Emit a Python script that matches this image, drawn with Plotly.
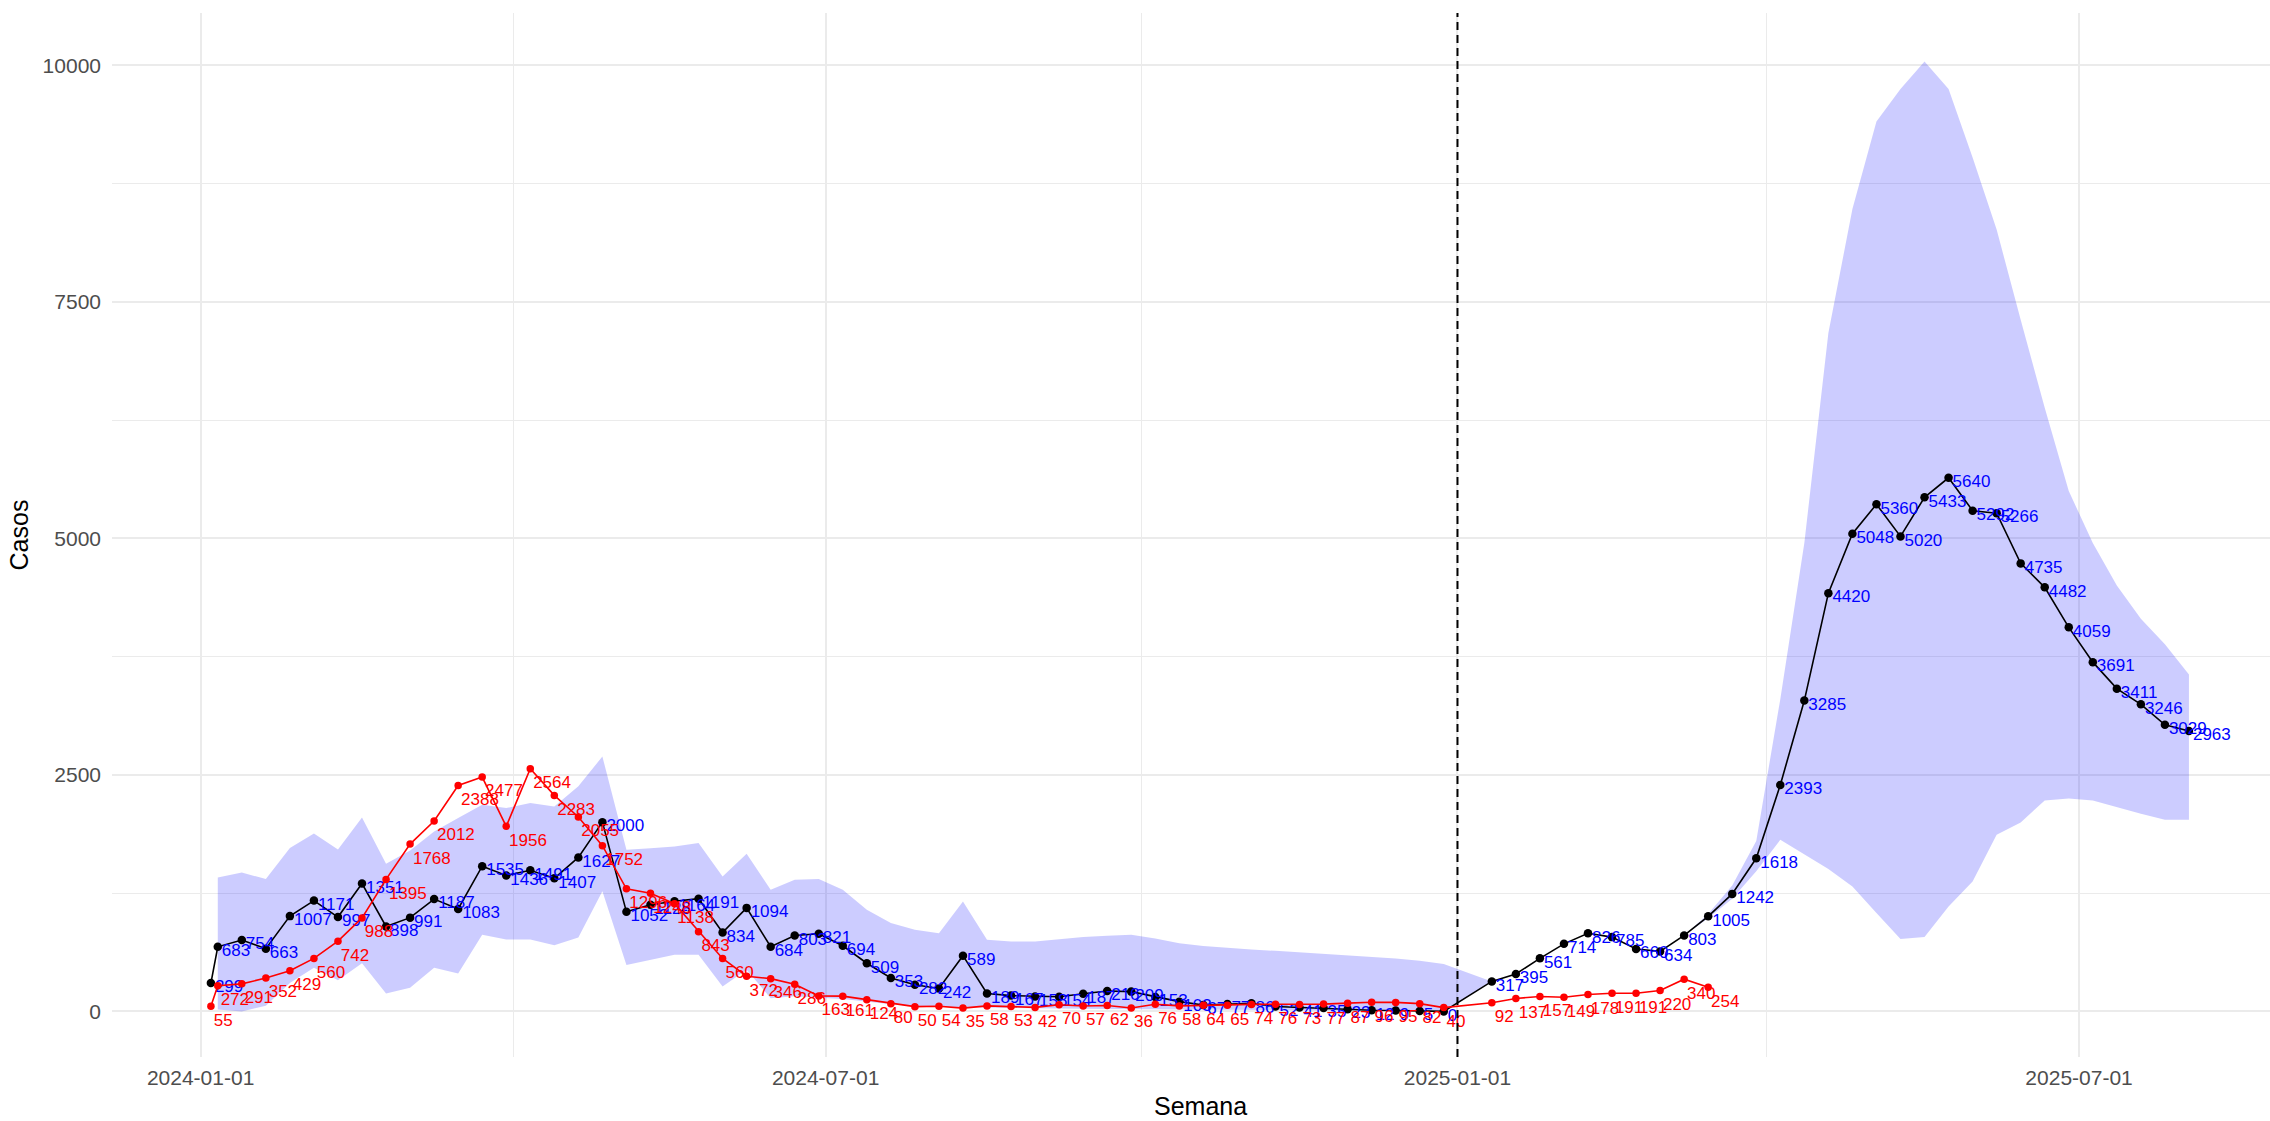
import pandas as pd
import plotly.graph_objects as go

# ---------------- data ----------------
semanas_2024 = [
    "2024-01-04", "2024-01-06", "2024-01-13", "2024-01-20", "2024-01-27",
    "2024-02-03", "2024-02-10", "2024-02-17", "2024-02-24", "2024-03-02",
    "2024-03-09", "2024-03-16", "2024-03-23", "2024-03-30", "2024-04-06",
    "2024-04-13", "2024-04-20", "2024-04-27", "2024-05-04", "2024-05-11",
    "2024-05-18", "2024-05-25", "2024-06-01", "2024-06-08", "2024-06-15",
    "2024-06-22", "2024-06-29", "2024-07-06", "2024-07-13", "2024-07-20",
    "2024-07-27", "2024-08-03", "2024-08-10", "2024-08-17", "2024-08-24",
    "2024-08-31", "2024-09-07", "2024-09-14", "2024-09-21", "2024-09-28",
    "2024-10-05", "2024-10-12", "2024-10-19", "2024-10-26", "2024-11-02",
    "2024-11-09", "2024-11-16", "2024-11-23", "2024-11-30", "2024-12-07",
    "2024-12-14", "2024-12-21", "2024-12-28",
]
semanas_2025 = [
    "2025-01-11", "2025-01-18", "2025-01-25", "2025-02-01", "2025-02-08",
    "2025-02-15", "2025-02-22", "2025-03-01", "2025-03-08", "2025-03-15",
    "2025-03-22", "2025-03-29", "2025-04-05", "2025-04-12", "2025-04-19",
    "2025-04-26", "2025-05-03", "2025-05-10", "2025-05-17", "2025-05-24",
    "2025-05-31", "2025-06-07", "2025-06-14", "2025-06-21", "2025-06-28",
    "2025-07-05", "2025-07-12", "2025-07-19", "2025-07-26", "2025-08-02",
]

# modelled cases (black line, blue labels)
estimados_2024 = [
    299, 683, 754, 663, 1007, 1171, 997, 1351, 898, 991,
    1187, 1083, 1535, 1436, 1491, 1407, 1627, 2000, 1052, 1128,
    1164, 1191, 834, 1094, 684, 803, 821, 694, 509, 353,
    282, 242, 589, 189, 167, 158, 154, 187, 216, 209,
    153, 103, 67, 77, 86, 52, 41, 35, 23, 12,
    9, 5, 0,
]
estimados_2025 = [
    317, 395, 561, 714, 826, 785, 660, 634, 803, 1005,
    1242, 1618, 2393, 3285, 4420, 5048, 5360, 5020, 5433, 5640,
    5292, 5266, 4735, 4482, 4059, 3691, 3411, 3246, 3029, 2963,
]

# observed cases (red line, red labels)
observados_2024 = [
    55, 272, 291, 352, 429, 560, 742, 988, 1395, 1768,
    2012, 2388, 2477, 1956, 2564, 2283, 2055, 1752, 1296, 1248,
    1138, 843, 560, 372, 346, 286, 163, 161, 124, 80,
    50, 54, 35, 58, 53, 42, 70, 57, 62, 36,
    76, 58, 64, 65, 74, 76, 73, 77, 87, 96,
    95, 82, 40,
]
observados_2025 = [92, 137, 157, 149, 178, 191, 191, 220, 340, 254]

# interval band (no band on the first week)
ic_inferior_2024 = [
    None, 20, 0, 60, 300, 460, 330, 510, 190, 250,
    460, 400, 810, 760, 760, 700, 780, 1270, 490, 545,
    598, 598, 264, 440, 140, 160, 143, 130, 100, 75,
    55, 50, 45, 40, 36, 31, 29, 27, 24, 22,
    20, 18, 17, 15, 13, 12, 10, 9, 8, 6,
    5, 4, 3,
]
ic_superior_2024 = [
    None, 1416, 1468, 1398, 1726, 1880, 1711, 2050, 1560, 1700,
    1900, 2043, 2184, 2149, 2202, 2166, 2380, 2694, 1708, 1725,
    1744, 1779, 1426, 1666, 1285, 1391, 1398, 1285, 1074, 933,
    862, 827, 1162, 757, 739, 739, 764, 785, 800, 810,
    770, 720, 690, 670, 655, 640, 625, 610, 595, 580,
    560, 535, 500,
]
ic_inferior_2025 = [
    317, 395, 561, 714, 826, 785, 660, 634, 803, 985,
    1190, 1480, 1813, 1659, 1504, 1320, 1039, 764, 785, 1109,
    1373, 1867, 1997, 2229, 2250, 2229, 2155, 2089, 2025, 2025,
]
ic_superior_2025 = [
    317, 395, 561, 714, 826, 785, 660, 634, 803, 1030,
    1330, 1800, 3300, 4950, 7170, 8480, 9406, 9748, 10040, 9748,
    9025, 8263, 7310, 6380, 5500, 4950, 4500, 4150, 3880, 3560,
]

fecha_corte = "2025-01-01"
ticks_x = ["2024-01-01", "2024-07-01", "2025-01-01", "2025-07-01"]
ticks_x_menores = ["2024-04-01", "2024-10-01", "2025-04-01"]
ticks_y = [0, 2500, 5000, 7500, 10000]
ticks_y_menores = [1250, 3750, 6250, 8750]

# ---------------- assemble ----------------
semanas = pd.to_datetime(semanas_2024 + semanas_2025)
estimados = estimados_2024 + estimados_2025
semanas_obs = pd.to_datetime(semanas_2024 + semanas_2025[:len(observados_2025)])
observados = observados_2024 + observados_2025
ic_inf = ic_inferior_2024 + ic_inferior_2025
ic_sup = ic_superior_2024 + ic_superior_2025

banda = [(s, lo, hi) for s, lo, hi in zip(semanas, ic_inf, ic_sup) if lo is not None]
banda_x = [b[0] for b in banda] + [b[0] for b in banda[::-1]]
banda_y = [b[2] for b in banda] + [b[1] for b in banda[::-1]]

FONT = "Liberation Sans"
LBL = 17
fig = go.Figure()

fig.add_trace(go.Scatter(
    x=banda_x, y=banda_y, fill="toself", mode="lines",
    line=dict(width=0), fillcolor="rgba(0,0,255,0.2)", hoverinfo="skip",
))
fig.add_trace(go.Scatter(
    x=semanas, y=estimados, mode="lines+markers",
    line=dict(color="black", width=1.6),
    marker=dict(color="black", size=8.5),
))
fig.add_trace(go.Scatter(
    x=semanas + pd.Timedelta(hours=28), y=[v - 53 for v in estimados],
    mode="text", text=[str(v) for v in estimados], textposition="middle right",
    textfont=dict(family=FONT, size=LBL, color="#0000FF"), hoverinfo="skip",
))
fig.add_trace(go.Scatter(
    x=semanas_obs, y=observados, mode="lines+markers",
    line=dict(color="#FF0000", width=1.6),
    marker=dict(color="#FF0000", size=7.5),
))
fig.add_trace(go.Scatter(
    x=semanas_obs + pd.Timedelta(hours=20), y=[v - 160 for v in observados],
    mode="text", text=[str(v) for v in observados], textposition="middle right",
    textfont=dict(family=FONT, size=LBL, color="#FF0000"), hoverinfo="skip",
))

fig.add_shape(
    type="line", xref="x", yref="paper", x0=fecha_corte, x1=fecha_corte, y0=0, y1=1,
    line=dict(color="black", width=2, dash="8px,5px"),
)

# axis geometry (ggplot-like expansion; panel continues past the right edge)
base = pd.Timestamp("2024-01-01")
x_ini = base - pd.Timedelta(days=25.8)
x_fin = base + pd.Timedelta(days=602.6)

W, H = 2270, 1121
ML, MR, MT, MB = 112, 0, 13, 64
plot_w = W - ML - MR
plot_h = H - MT - MB

fig.update_layout(
    width=W, height=H,
    margin=dict(l=ML, r=MR, t=MT, b=MB, pad=0),
    paper_bgcolor="white", plot_bgcolor="white",
    showlegend=False,
    font=dict(family=FONT),
)
# x-axis title centred on the full (cropped) ggplot panel
fig.add_annotation(
    text="Semana", xref="paper", yref="paper",
    x=(1200 - ML) / plot_w, y=-(1106 - (H - MB)) / plot_h,
    xanchor="center", yanchor="middle", showarrow=False,
    font=dict(family=FONT, size=25, color="black"),
)
fig.update_xaxes(
    type="date", range=[x_ini, x_fin],
    tickmode="array", tickvals=ticks_x, ticktext=ticks_x,
    showgrid=True, gridcolor="#EBEBEB", gridwidth=2.3,
    minor=dict(tickmode="array", tickvals=ticks_x_menores, showgrid=True,
               gridcolor="#EBEBEB", gridwidth=1.2),
    zeroline=False, showline=False, ticks="",
    tickfont=dict(family=FONT, size=21, color="#4D4D4D"),
    ticklabelstandoff=6,
)
fig.update_yaxes(
    range=[-482, 10552],
    tickmode="array", tickvals=ticks_y, ticktext=[str(v) for v in ticks_y],
    showgrid=True, gridcolor="#EBEBEB", gridwidth=2.3,
    minor=dict(tickmode="array", tickvals=ticks_y_menores, showgrid=True,
               gridcolor="#EBEBEB", gridwidth=1.2),
    zeroline=False, showline=False, ticks="",
    tickfont=dict(family=FONT, size=21, color="#4D4D4D"),
    ticklabelstandoff=10,
    title=dict(text="Casos", font=dict(family=FONT, size=25, color="black"), standoff=6),
)

fig.write_html(
    "out.html",
    config={"displayModeBar": False},
    post_script="document.body.style.margin='0';document.body.style.overflow='hidden';",
)
